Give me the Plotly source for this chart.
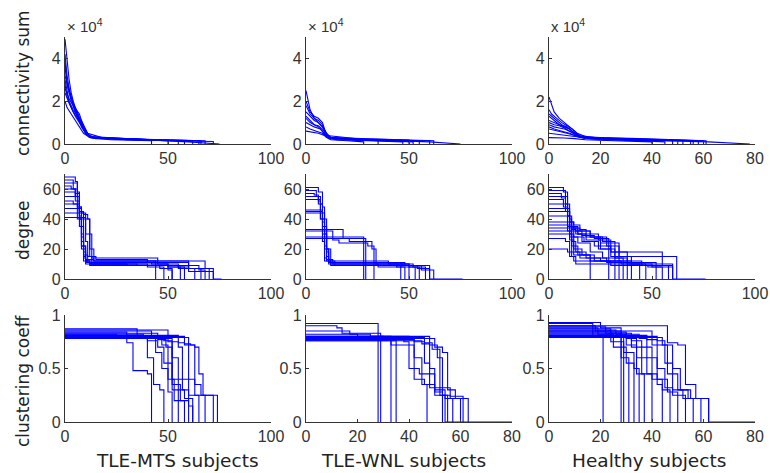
import plotly.graph_objects as go

W, H = 770, 473

# ---------------- data ----------------
# Row 1: connectivity sum (units of 10^4), sorted node values per subject
MTS_CONN = [
    [[0, 1, 2, 3, 4, 6, 8, 10, 12, 15, 30, 50, 72, 72], [4.9, 3.8, 3.0, 2.4, 2.0, 1.4, 0.9, 0.5, 0.3, 0.25, 0.2, 0.15, 0.12, 0]],
    [[0, 1, 2, 4, 6, 8, 10, 13, 20, 40, 65, 65], [4.2, 3.2, 2.6, 1.8, 1.3, 0.8, 0.5, 0.3, 0.25, 0.2, 0.15, 0]],
    [[0, 1, 3, 5, 7, 9, 12, 25, 45, 68, 68], [3.6, 2.8, 2.0, 1.5, 1.1, 0.7, 0.3, 0.25, 0.2, 0.15, 0]],
    [[0, 2, 4, 6, 8, 10, 12, 20, 40, 58, 58], [3.2, 2.4, 1.9, 1.5, 1.0, 0.6, 0.35, 0.3, 0.2, 0.15, 0]],
    [[0, 1, 3, 5, 7, 9, 11, 16, 35, 55, 55], [2.8, 2.2, 1.7, 1.3, 1.0, 0.7, 0.4, 0.3, 0.2, 0.15, 0]],
    [[0, 2, 4, 6, 8, 10, 14, 30, 50, 50], [2.4, 1.9, 1.5, 1.2, 0.9, 0.5, 0.3, 0.2, 0.15, 0]],
    [[0, 1, 3, 5, 7, 9, 12, 22, 42, 42], [2.0, 1.7, 1.4, 1.1, 0.8, 0.5, 0.3, 0.2, 0.15, 0]],
    [[0, 2, 4, 6, 8, 11, 18, 40, 62, 62], [3.0, 2.0, 1.6, 1.3, 1.1, 0.5, 0.3, 0.2, 0.12, 0]],
    [[0, 2, 4, 7, 9, 12, 25, 48, 66, 66], [2.6, 2.1, 1.8, 1.4, 0.8, 0.3, 0.25, 0.2, 0.15, 0]],
    [[0, 1, 3, 5, 8, 10, 13, 30, 60, 75], [3.9, 2.9, 2.2, 1.6, 1.0, 0.6, 0.3, 0.25, 0.1, 0]],
]
WNL_CONN = [
    [[0, 1, 2, 4, 6, 8, 10, 12, 20, 40, 50, 50], [2.5, 2.0, 1.6, 1.2, 1.0, 0.8, 0.5, 0.3, 0.25, 0.2, 0.18, 0]],
    [[0, 2, 4, 6, 8, 9, 11, 25, 45, 62, 62], [1.8, 1.4, 1.2, 1.1, 0.9, 0.6, 0.3, 0.25, 0.2, 0.15, 0]],
    [[0, 2, 4, 6, 8, 10, 12, 30, 50, 60, 60], [1.5, 1.3, 1.1, 1.0, 0.8, 0.5, 0.3, 0.2, 0.18, 0.15, 0]],
    [[0, 2, 4, 6, 8, 10, 20, 40, 55, 55], [1.2, 1.0, 0.9, 0.8, 0.6, 0.3, 0.2, 0.15, 0.12, 0]],
    [[0, 2, 4, 7, 9, 11, 25, 45, 52, 52], [1.0, 0.9, 0.8, 0.7, 0.5, 0.25, 0.2, 0.15, 0.1, 0]],
    [[0, 2, 5, 8, 10, 15, 30, 47, 47], [0.8, 0.7, 0.6, 0.5, 0.3, 0.2, 0.15, 0.1, 0]],
    [[0, 3, 6, 9, 12, 20, 28, 28], [0.6, 0.55, 0.5, 0.4, 0.2, 0.15, 0.1, 0]],
    [[0, 2, 4, 6, 8, 10, 14, 35, 35], [1.3, 1.1, 0.9, 0.85, 0.7, 0.4, 0.25, 0.15, 0]],
    [[0, 2, 4, 6, 8, 10, 30, 60, 75], [2.0, 1.5, 1.3, 1.2, 1.0, 0.4, 0.2, 0.1, 0]],
]
HEALTHY_CONN = [
    [[0, 1, 2, 4, 6, 8, 10, 12, 20, 35, 55, 61, 61], [2.2, 1.8, 1.5, 1.2, 1.0, 0.8, 0.6, 0.35, 0.3, 0.25, 0.2, 0.15, 0]],
    [[0, 1, 3, 5, 7, 9, 11, 15, 30, 50, 60, 60], [1.6, 1.4, 1.2, 1.0, 0.85, 0.7, 0.5, 0.3, 0.25, 0.2, 0.15, 0]],
    [[0, 2, 4, 6, 8, 10, 12, 25, 45, 58, 58], [1.3, 1.1, 0.9, 0.8, 0.7, 0.5, 0.3, 0.25, 0.2, 0.15, 0]],
    [[0, 2, 4, 6, 8, 10, 13, 33, 55, 55], [1.1, 1.0, 0.9, 0.8, 0.7, 0.5, 0.3, 0.2, 0.15, 0]],
    [[0, 2, 4, 6, 9, 12, 20, 40, 52, 52], [0.9, 0.8, 0.75, 0.7, 0.55, 0.35, 0.25, 0.2, 0.15, 0]],
    [[0, 2, 4, 7, 10, 14, 30, 48, 48], [0.7, 0.65, 0.6, 0.5, 0.4, 0.25, 0.2, 0.15, 0]],
    [[0, 3, 6, 9, 12, 20, 35, 45, 45], [0.5, 0.45, 0.4, 0.35, 0.3, 0.2, 0.15, 0.1, 0]],
    [[0, 3, 6, 10, 14, 25, 40, 40], [0.3, 0.3, 0.28, 0.25, 0.2, 0.15, 0.1, 0]],
    [[0, 1, 3, 5, 7, 9, 12, 18, 35, 56, 56], [1.4, 1.3, 1.1, 0.9, 0.8, 0.6, 0.4, 0.3, 0.2, 0.15, 0]],
    [[0, 2, 4, 6, 8, 10, 12, 30, 62, 78], [1.0, 0.9, 0.85, 0.75, 0.6, 0.45, 0.3, 0.2, 0.1, 0]],
    [[0, 2, 5, 8, 11, 16, 30, 50, 50], [0.8, 0.7, 0.6, 0.5, 0.35, 0.25, 0.2, 0.15, 0]],
]

# Row 2: degree (step curves)
MTS_DEG = [
    [[0, 5, 6, 7, 8, 9, 10, 20, 45, 55, 60, 70], [68, 65, 55, 40, 25, 15, 12, 12, 10, 8, 7, 0]],
    [[0, 4, 6, 7, 8, 9, 11, 42, 50, 58], [66, 60, 50, 35, 20, 12, 11, 10, 8, 0]],
    [[0, 6, 7, 8, 9, 10, 12, 30, 46, 52], [64, 58, 45, 30, 18, 11, 10, 9, 7, 0]],
    [[0, 3, 5, 7, 8, 10, 14, 44, 48], [62, 60, 52, 40, 22, 13, 12, 8, 0]],
    [[0, 5, 7, 8, 9, 11, 13, 40, 44], [58, 55, 42, 28, 16, 11, 10, 8, 0]],
    [[0, 7, 8, 9, 10, 12, 35, 55, 63], [55, 48, 35, 20, 12, 10, 9, 7, 0]],
    [[0, 6, 8, 10, 11, 13, 14, 60, 66], [50, 48, 40, 25, 15, 14, 12, 7, 0]],
    [[0, 8, 10, 12, 13, 50, 56], [47, 44, 30, 15, 10, 8, 0]],
    [[0, 9, 11, 12, 14, 45, 68, 72], [44, 43, 40, 20, 14, 12, 7, 0]],
    [[0, 10, 12, 13, 15, 40, 60, 72, 76], [41, 40, 30, 15, 13, 11, 5, 0, 0]],
    [[0, 5, 7, 9, 10, 30, 65, 68], [60, 57, 45, 14, 10, 9, 6, 0]],
    [[0, 4, 6, 8, 10, 12, 50, 52], [52, 50, 40, 22, 12, 9, 6, 0]],
]
WNL_DEG = [
    [[0, 6, 8, 9, 10, 11, 46, 52, 55], [61, 58, 48, 30, 15, 11, 10, 8, 0]],
    [[0, 5, 7, 8, 9, 10, 40, 50, 58], [59, 55, 45, 30, 14, 12, 10, 8, 0]],
    [[0, 4, 6, 8, 9, 11, 45, 54, 60], [57, 56, 50, 35, 20, 10, 9, 7, 0]],
    [[0, 6, 7, 8, 9, 12, 44, 48], [55, 52, 40, 25, 12, 9, 8, 0]],
    [[0, 7, 8, 9, 10, 13, 47, 56, 62], [53, 50, 38, 22, 13, 10, 9, 6, 0]],
    [[0, 8, 9, 10, 11, 14, 46, 53], [46, 44, 35, 20, 12, 9, 8, 0]],
    [[0, 7, 9, 10, 11, 12, 35, 46], [45, 40, 30, 18, 11, 10, 8, 0]],
    [[0, 18, 21, 32, 34, 50], [33, 27, 25, 20, 10, 0]],
    [[0, 13, 16, 30, 33], [32, 26, 24, 22, 0]],
    [[0, 28], [28, 0]],
    [[0, 29], [27, 0]],
    [[0, 8, 10, 12, 48, 60, 76], [44, 40, 20, 11, 9, 0, 0]],
]
HEALTHY_DEG = [
    [[0, 7, 9, 10, 11, 13, 30, 48, 55], [61, 58, 45, 30, 15, 10, 9, 8, 0]],
    [[0, 8, 9, 10, 12, 15, 25, 40, 60], [59, 55, 42, 28, 18, 14, 12, 10, 0]],
    [[0, 6, 8, 9, 11, 14, 20, 45, 58], [57, 54, 45, 32, 22, 16, 12, 9, 0]],
    [[0, 8, 10, 11, 13, 18, 28, 52], [55, 50, 38, 25, 18, 14, 11, 0]],
    [[0, 7, 9, 10, 12, 16, 22, 35, 47], [53, 48, 35, 26, 20, 16, 12, 10, 0]],
    [[0, 9, 10, 12, 14, 20, 26, 38, 44], [50, 45, 35, 28, 24, 18, 14, 10, 0]],
    [[0, 10, 11, 13, 16, 24, 30, 40], [47, 40, 33, 30, 25, 20, 15, 0]],
    [[0, 9, 11, 14, 18, 25, 32, 36], [45, 42, 35, 30, 26, 20, 14, 0]],
    [[0, 10, 12, 15, 20, 28, 34], [42, 38, 34, 32, 28, 22, 0]],
    [[0, 12, 15, 18, 24, 30, 38], [38, 36, 33, 30, 26, 18, 0]],
    [[0, 11, 14, 20, 26, 32], [36, 34, 32, 28, 25, 0]],
    [[0, 13, 16, 22, 29], [34, 32, 29, 27, 0]],
    [[0, 14, 18, 25, 34, 62], [32, 30, 28, 24, 15, 0]],
    [[0, 12, 17, 22, 30, 55, 60], [30, 28, 25, 22, 18, 9, 0]],
    [[0, 9, 12, 20], [20, 18, 16, 0]],
    [[0, 8, 10, 12, 30, 50, 60, 76], [27, 25, 15, 12, 10, 8, 0, 0]],
]

# Row 3: clustering coefficient (step curves)
MTS_CC = [
    [[0, 30, 33, 40, 42], [0.84, 0.74, 0.48, 0.45, 0]],
    [[0, 35, 40, 43, 46, 48], [0.87, 0.80, 0.60, 0.35, 0.30, 0]],
    [[0, 38, 44, 47, 50, 52], [0.82, 0.78, 0.65, 0.50, 0.28, 0]],
    [[0, 40, 45, 48, 52, 55], [0.80, 0.76, 0.70, 0.55, 0.30, 0]],
    [[0, 42, 47, 50, 53, 58], [0.85, 0.80, 0.72, 0.40, 0.20, 0]],
    [[0, 45, 49, 52, 56, 60], [0.83, 0.77, 0.70, 0.35, 0.20, 0]],
    [[0, 48, 52, 55, 58, 62], [0.78, 0.76, 0.60, 0.30, 0.22, 0]],
    [[0, 50, 55, 57, 60, 65], [0.86, 0.75, 0.70, 0.30, 0.25, 0]],
    [[0, 55, 58, 60, 63, 68], [0.81, 0.74, 0.72, 0.40, 0.25, 0]],
    [[0, 58, 61, 63, 66, 72], [0.80, 0.73, 0.72, 0.35, 0.25, 0]],
    [[0, 60, 63, 65, 67, 74], [0.79, 0.72, 0.70, 0.45, 0.25, 0]],
    [[0, 25, 48, 52, 60, 62], [0.82, 0.80, 0.78, 0.40, 0.15, 0]],
]
WNL_CC = [
    [[0, 28], [0.92, 0]],
    [[0, 12, 14, 29], [0.90, 0.88, 0.83, 0]],
    [[0, 17, 20, 30, 33], [0.85, 0.82, 0.80, 0.78, 0]],
    [[0, 25, 33, 35], [0.82, 0.80, 0.72, 0]],
    [[0, 40, 42, 45, 47], [0.80, 0.78, 0.60, 0.35, 0]],
    [[0, 38, 40, 44, 50, 53], [0.78, 0.75, 0.50, 0.45, 0.28, 0]],
    [[0, 42, 46, 48, 52, 55], [0.77, 0.75, 0.55, 0.32, 0.25, 0]],
    [[0, 45, 48, 50, 54, 57], [0.76, 0.73, 0.50, 0.30, 0.22, 0]],
    [[0, 48, 51, 53, 56, 60], [0.80, 0.72, 0.60, 0.25, 0.22, 0]],
    [[0, 50, 53, 55, 58, 63], [0.78, 0.70, 0.65, 0.30, 0.22, 0]],
    [[0, 46, 49, 52, 56, 61], [0.79, 0.74, 0.68, 0.32, 0.24, 0]],
    [[0, 35, 42, 46, 50, 54, 80], [0.76, 0.72, 0.40, 0.35, 0.25, 0, 0]],
]
HEALTHY_CC = [
    [[0, 17, 21], [0.92, 0.80, 0]],
    [[0, 20, 28], [0.93, 0.88, 0]],
    [[0, 18, 24, 29], [0.90, 0.85, 0.75, 0]],
    [[0, 22, 28, 31], [0.89, 0.83, 0.60, 0]],
    [[0, 19, 25, 30, 33], [0.88, 0.82, 0.70, 0.55, 0]],
    [[0, 24, 29, 33, 35], [0.87, 0.80, 0.65, 0.50, 0]],
    [[0, 26, 30, 34, 37], [0.86, 0.82, 0.72, 0.45, 0]],
    [[0, 28, 32, 36, 40], [0.85, 0.80, 0.70, 0.45, 0]],
    [[0, 30, 34, 38, 42, 44], [0.84, 0.78, 0.60, 0.45, 0.35, 0]],
    [[0, 32, 36, 40, 44, 47], [0.83, 0.76, 0.70, 0.40, 0.30, 0]],
    [[0, 35, 38, 42, 46, 50], [0.82, 0.78, 0.60, 0.40, 0.28, 0]],
    [[0, 38, 42, 45, 48, 53], [0.81, 0.77, 0.50, 0.32, 0.25, 0]],
    [[0, 42, 45, 48, 52, 56], [0.80, 0.76, 0.55, 0.30, 0.22, 0]],
    [[0, 44, 48, 51, 55, 59], [0.79, 0.72, 0.50, 0.30, 0.22, 0]],
    [[0, 46, 50, 53, 57, 62], [0.90, 0.74, 0.72, 0.35, 0.22, 0]],
    [[0, 40, 46, 50, 54, 62, 80], [0.85, 0.72, 0.45, 0.30, 0.22, 0, 0]],
]

GROUP_LABELS = ["TLE-MTS subjects", "TLE-WNL subjects", "Healthy subjects"]
MEASURE_LABELS = ["connectivity sum", "degree", "clustering coeff"]
PANELS = [
    [MTS_CONN, WNL_CONN, HEALTHY_CONN],
    [MTS_DEG, WNL_DEG, HEALTHY_DEG],
    [MTS_CC, WNL_CC, HEALTHY_CC],
]
X_MAX = [[100, 100, 80], [100, 100, 100], [100, 80, 80]]
Y_MAX = [5, 70, 1]
Y_TICKS = [[0, 2, 4], [0, 20, 40, 60], [0, 0.5, 1]]
Y_TICKTEXT = [["0", "2", "4"], ["0", "20", "40", "60"], ["0", "0.5", "1"]]

# ---------------- layout (pixel positions) ----------------
COL_PX = [(65, 271), (306, 512), (549, 755)]
ROW_PX = [(37, 144), (174, 279), (315, 422)]

BLUE = "#0000ff"
AX = "#333333"
TICKFONT = dict(family="Liberation Sans, Arial, sans-serif", size=16, color="#333333")
YTITLEFONT = dict(family="DejaVu Sans, Verdana, sans-serif", size=17, color="#222222")
XTITLEFONT = dict(family="DejaVu Sans, Verdana, sans-serif", size=18.5, color="#222222")

fig = go.Figure()
layout = {}
for r in range(3):
    for c in range(3):
        k = r * 3 + c + 1
        xa = "x" if k == 1 else f"x{k}"
        ya = "y" if k == 1 else f"y{k}"
        shape = "linear" if r == 0 else "hv"
        for xs, ys in PANELS[r][c]:
            fig.add_trace(go.Scatter(
                x=xs, y=ys, mode="lines", xaxis=xa, yaxis=ya,
                line=dict(color=BLUE, width=1.1, shape=shape),
                hoverinfo="skip", showlegend=False))
        xmax = X_MAX[r][c]
        xt = [0, 50, 100] if xmax == 100 else [0, 20, 40, 60, 80]
        x0, x1 = COL_PX[c]
        y0, y1 = ROW_PX[r]
        layout["xaxis" if k == 1 else f"xaxis{k}"] = dict(
            domain=[x0 / W, x1 / W], range=[0, xmax], anchor=ya,
            tickvals=xt, ticks="inside", ticklen=3, tickcolor=AX,
            showline=True, linecolor=AX, linewidth=1.3, showgrid=False,
            zeroline=False, tickfont=TICKFONT, fixedrange=True,
            automargin=False)
        layout["yaxis" if k == 1 else f"yaxis{k}"] = dict(
            domain=[1 - y1 / H, 1 - y0 / H], range=[0, Y_MAX[r]], anchor=xa,
            tickvals=Y_TICKS[r], ticktext=Y_TICKTEXT[r], ticks="inside",
            ticklen=3, tickcolor=AX, showline=True, linecolor=AX,
            linewidth=1.3, showgrid=False, zeroline=False,
            tickfont=TICKFONT, fixedrange=True, automargin=False)

annotations = []
# x 10^4 multipliers
for c, txt in enumerate(["× 10<sup>4</sup>", "× 10<sup>4</sup>", "x 10<sup>4</sup>"]):
    annotations.append(dict(
        text=txt, xref="paper", yref="paper", x=COL_PX[c][0] / W, y=1 - 26 / H,
        xanchor="left", yanchor="middle", showarrow=False,
        font=dict(family="Liberation Sans, Arial, sans-serif", size=15, color="#333333")))
# row titles
for (yc, txt) in zip([83, 230, 381], MEASURE_LABELS):
    annotations.append(dict(
        text=txt, xref="paper", yref="paper", x=23 / W, y=1 - yc / H,
        xanchor="center", yanchor="middle", textangle=-90, showarrow=False,
        font=YTITLEFONT))
# column titles
for (xc, txt) in zip([177, 404, 649], GROUP_LABELS):
    annotations.append(dict(
        text=txt, xref="paper", yref="paper", x=xc / W, y=1 - 460 / H,
        xanchor="center", yanchor="middle", showarrow=False,
        font=XTITLEFONT))

fig.update_layout(
    width=W, height=H, margin=dict(l=0, r=0, t=0, b=0, pad=0, autoexpand=False),
    paper_bgcolor="white", plot_bgcolor="white",
    annotations=annotations, **layout)

fig.write_html(
    "out.html",
    config={"displayModeBar": False},
    post_script="document.body.style.margin='0';document.body.style.overflow='hidden';",
)
